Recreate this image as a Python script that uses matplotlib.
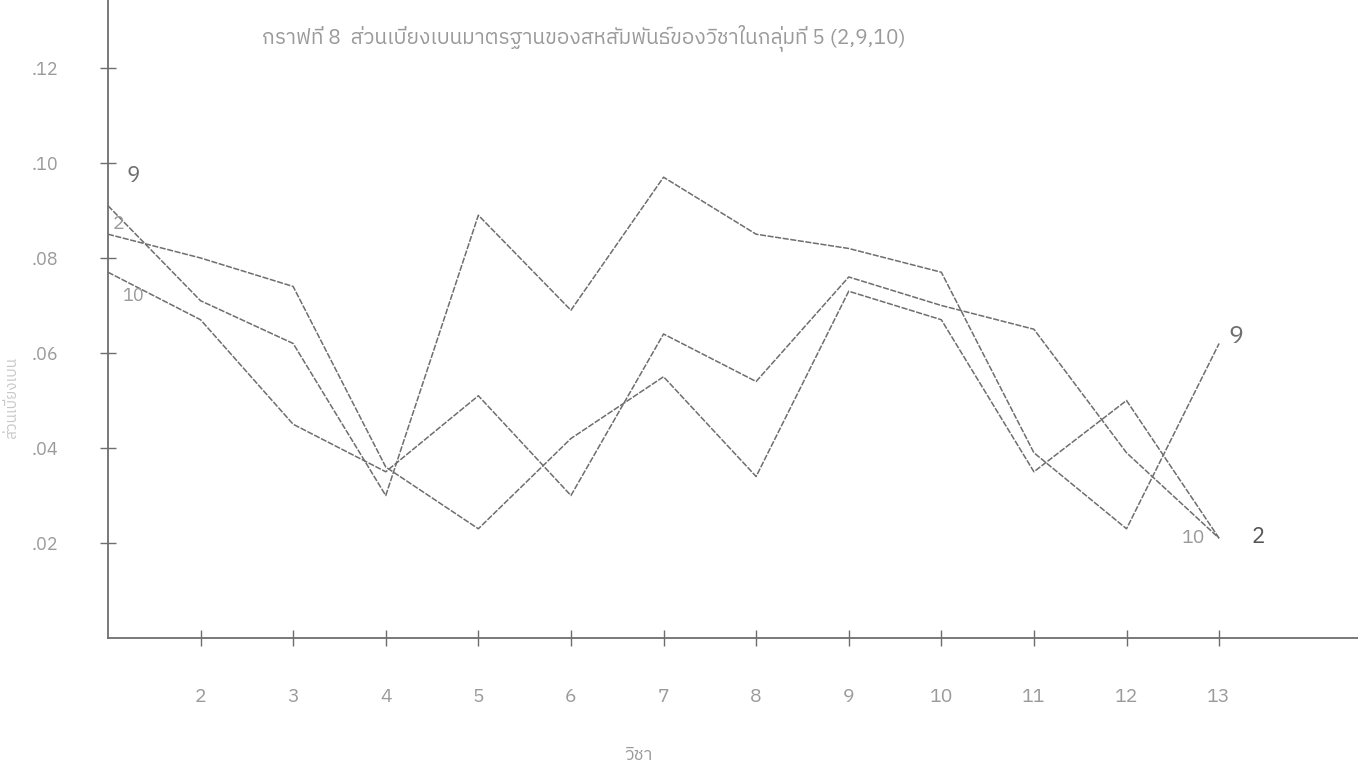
import matplotlib
matplotlib.use("Agg")
import matplotlib.pyplot as plt
from matplotlib import font_manager

# Thai text needs a font with Thai glyphs; try a few
thai_fams = [f.name for f in font_manager.fontManager.ttflist if "Thai" in f.name]
plt.rcParams['font.family'] = thai_fams[:1] + ['DejaVu Sans']

# subjects on x axis
subjects = list(range(1, 14))
xtick_labels = ["2", "3", "4", "5", "6", "7", "8", "9", "10", "11", "12", "13"]
yticks = [0.02, 0.04, 0.06, 0.08, 0.10, 0.12]
ytick_labels = [".02", ".04", ".06", ".08", ".10", ".12"]

# standard deviation of correlations, one line per subject in group 5
sd_9 = [.091, .071, .062, .030, .089, .069, .097, .085, .082, .077, .039, .023, .062]
sd_2 = [.085, .080, .074, .036, .023, .042, .055, .034, .073, .067, .035, .050, .021]
sd_10 = [.077, .067, .045, .035, .051, .030, .064, .054, .076, .070, .065, .039, .021]

title = "กราฟที่ 8  ส่วนเบี่ยงเบนมาตรฐานของสหสัมพันธ์ของวิชาในกลุ่มที่ 5 (2,9,10)"

ink = "#6e6e6e"
faint = "#9a9a9a"

fig = plt.figure(figsize=(13.58, 7.8), dpi=100)
ax = fig.add_axes([0.0795, 0.182, 0.9205, 0.818])

for ys in (sd_9, sd_2, sd_10):
    ax.plot(subjects, ys, color=ink, lw=1.1, ls=(0, (4, 1)))

ax.set_xlim(1, 14.5)
ax.set_ylim(0, 0.1343)
ax.set_xticks(range(2, 14))
ax.set_xticklabels(xtick_labels)
ax.set_yticks(yticks)
ax.set_yticklabels(ytick_labels)
ax.tick_params(direction="inout", length=12, width=1, color=ink,
               labelcolor=faint, labelsize=14)
ax.tick_params(axis="x", pad=30)
ax.tick_params(axis="y", pad=30, labelsize=13)

for s in ("top", "right"):
    ax.spines[s].set_visible(False)
for s in ("left", "bottom"):
    ax.spines[s].set_color(ink)
    ax.spines[s].set_linewidth(1.3)
    ax.spines[s].set_linestyle((0, (3, 1)))

# line labels
ax.text(1.2, sd_9[0] + 0.005, "9", color=ink, fontsize=16)
ax.text(1.05, sd_2[0] + 0.001, "2", color=faint, fontsize=14)
ax.text(1.15, sd_10[0] - 0.006, "10", color=faint, fontsize=13)
ax.text(13.1, sd_9[-1], "9", color=ink, fontsize=18)
ax.text(12.6, sd_10[-1] - 0.001, "10", color=faint, fontsize=14)
ax.text(13.35, sd_2[-1] - 0.001, "2", color="#555555", fontsize=16)

fig.text(0.43, 0.945, title, ha="center", color=faint, fontsize=15)
fig.text(0.47, 0.025, "วิชา", ha="center", color=faint, fontsize=13)
fig.text(0.004, 0.49, "ส่วนเบี่ยงเบน", rotation=90, va="center", color="#c8c8c8", fontsize=11)

fig.savefig("out.png", dpi=100)
